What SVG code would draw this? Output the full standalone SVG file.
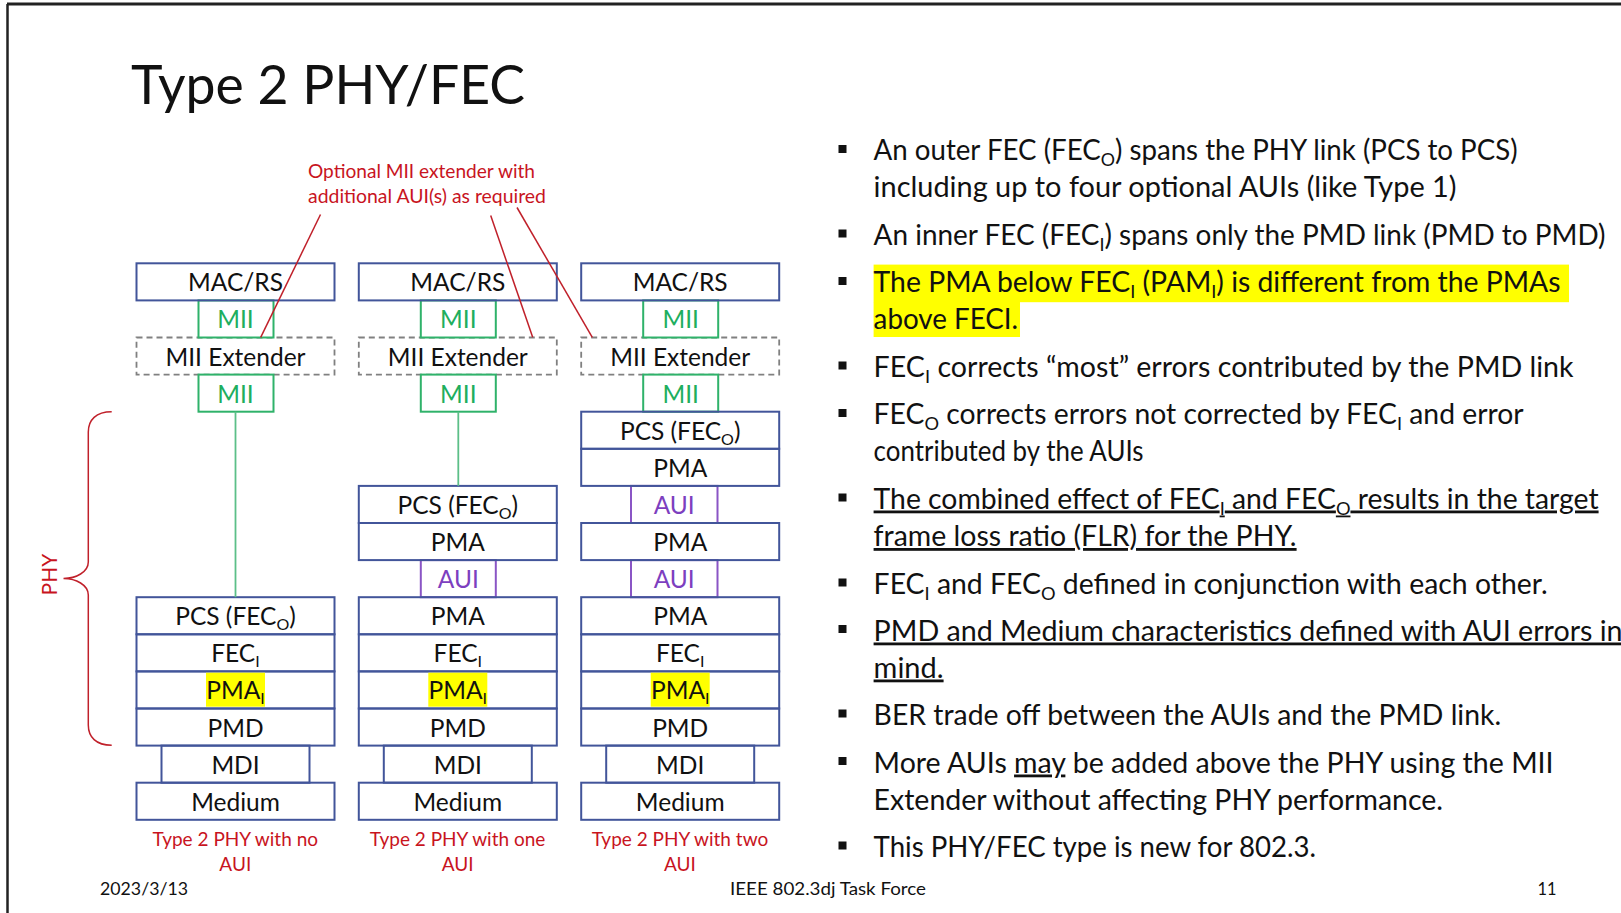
<svg xmlns="http://www.w3.org/2000/svg" width="1621" height="913" viewBox="0 0 1621 913">
<style>
text{font-family:Lato,"Open Sans",sans-serif;text-decoration-skip-ink:none;}
.box{fill:none;stroke:#42559A;stroke-width:2;}
.dash{fill:none;stroke:#808080;stroke-width:1.8;stroke-dasharray:6 4;}
.mii{fill:#fff;stroke:#2FB26A;stroke-width:2;}
.aui{fill:#fff;stroke:#8A55C5;stroke-width:2;}
.lbl{font-size:24.5px;fill:#111;text-anchor:middle;}
.g{fill:#20AE5E;}
.p{fill:#7D3FBF;}
.red{fill:#C8141E;}
.cap{font-size:19px;fill:#C8141E;text-anchor:middle;}
.hl{fill:#FFFF00;}
.b{font-size:28px;fill:#111;}
.bul{fill:#111;}
.foot{font-size:18px;fill:#111;}
.rl{stroke:#C0202A;stroke-width:1.5;fill:none;}
.gl{stroke:#5CBF88;stroke-width:1.8;fill:none;}
</style>
<rect x="0" y="0" width="1621" height="913" fill="#fff"/>
<g id="frame"><line x1="7" y1="4" x2="1621" y2="4" stroke="#222" stroke-width="3"/><line x1="7.5" y1="4" x2="7.5" y2="913" stroke="#222" stroke-width="2.5"/></g>
<g id="title"><text x="131" y="104" font-size="55" fill="#111" textLength="394" lengthAdjust="spacingAndGlyphs">Type 2 PHY/FEC</text></g>

<g id="annotation">
<text x="308" y="178" font-size="19" class="red" textLength="227" lengthAdjust="spacingAndGlyphs">Optional MII extender with</text>
<text x="308" y="203" font-size="19" class="red" textLength="238" lengthAdjust="spacingAndGlyphs">additional AUI(s) as required</text>
</g>

<g id="brace">
<path class="rl" stroke-width="2" d="M111.7,411.7 C96,411.7 88.3,420 88.3,432 L88.3,562 C88.3,572 76,578.5 63.5,578.5 C76,578.5 88.3,585 88.3,595 L88.3,725 C88.3,737 96,745.3 111.7,745.3"/>
<text transform="translate(56.5,574.5) rotate(-90)" x="0" y="0" font-size="21" class="red" text-anchor="middle">PHY</text>
</g>

<!-- Column 1 -->
<g id="col1-mii-ext"><rect class="dash" x="136.5" y="337.5" width="198" height="37.1"/><text class="lbl" x="235.5" y="365.5">MII Extender</text></g>
<g id="col1-mii-top"><rect class="mii" x="198.5" y="300.4" width="75" height="37.1"/><text class="lbl g" x="235.5" y="328.4">MII</text></g>
<g id="col1-mii-bot"><rect class="mii" x="198.5" y="374.6" width="75" height="37.1"/><text class="lbl g" x="235.5" y="402.6">MII</text></g>
<g id="col1-mac"><rect class="box" x="136.5" y="263.3" width="198" height="37.1"/><text class="lbl" x="235.5" y="291.3">MAC/RS</text></g>
<g id="col1-pcs"><rect class="box" x="136.5" y="597.2" width="198" height="37.1"/><text class="lbl" x="235.5" y="625.2">PCS (FEC<tspan font-size="16" dy="5">O</tspan><tspan dy="-5">)</tspan></text></g>
<g id="col1-feci"><rect class="box" x="136.5" y="634.3" width="198" height="37.1"/><text class="lbl" x="235.5" y="662.3">FEC<tspan font-size="16" dy="5">I</tspan></text></g>
<g id="col1-pmai"><rect class="box" x="136.5" y="671.4" width="198" height="37.1"/><rect class="hl" x="206" y="672.7" width="59" height="34"/><text class="lbl" x="235.5" y="699.4">PMA<tspan font-size="16" dy="5">I</tspan></text></g>
<g id="col1-pmd"><rect class="box" x="136.5" y="708.5" width="198" height="37.1"/><text class="lbl" x="235.5" y="736.5">PMD</text></g>
<g id="col1-mdi"><rect class="box" x="161.5" y="745.6" width="148" height="37.1"/><text class="lbl" x="235.5" y="773.6">MDI</text></g>
<g id="col1-medium"><rect class="box" x="136.5" y="782.7" width="198" height="37.1"/><text class="lbl" x="235.5" y="810.7">Medium</text></g>
<g id="col1-caption"><text class="cap" x="235.3" y="846">Type 2 PHY with no</text><text class="cap" x="235.3" y="870.5">AUI</text></g>

<!-- Column 2 -->
<g id="col2-mii-ext"><rect class="dash" x="358.8" y="337.5" width="198" height="37.1"/><text class="lbl" x="457.8" y="365.5">MII Extender</text></g>
<g id="col2-mii-top"><rect class="mii" x="420.8" y="300.4" width="75" height="37.1"/><text class="lbl g" x="458.3" y="328.4">MII</text></g>
<g id="col2-mii-bot"><rect class="mii" x="420.8" y="374.6" width="75" height="37.1"/><text class="lbl g" x="458.3" y="402.6">MII</text></g>
<g id="col2-aui"><rect class="aui" x="420.8" y="560.1" width="75" height="37.1"/><text class="lbl p" x="458.3" y="588.1">AUI</text></g>
<g id="col2-mac"><rect class="box" x="358.8" y="263.3" width="198" height="37.1"/><text class="lbl" x="457.8" y="291.3">MAC/RS</text></g>
<g id="col2-pcs"><rect class="box" x="358.8" y="485.9" width="198" height="37.1"/><text class="lbl" x="457.8" y="513.9">PCS (FEC<tspan font-size="16" dy="5">O</tspan><tspan dy="-5">)</tspan></text></g>
<g id="col2-pma1"><rect class="box" x="358.8" y="523" width="198" height="37.1"/><text class="lbl" x="457.8" y="551">PMA</text></g>
<g id="col2-pma2"><rect class="box" x="358.8" y="597.2" width="198" height="37.1"/><text class="lbl" x="457.8" y="625.2">PMA</text></g>
<g id="col2-feci"><rect class="box" x="358.8" y="634.3" width="198" height="37.1"/><text class="lbl" x="457.8" y="662.3">FEC<tspan font-size="16" dy="5">I</tspan></text></g>
<g id="col2-pmai"><rect class="box" x="358.8" y="671.4" width="198" height="37.1"/><rect class="hl" x="428.3" y="672.7" width="59" height="34"/><text class="lbl" x="457.8" y="699.4">PMA<tspan font-size="16" dy="5">I</tspan></text></g>
<g id="col2-pmd"><rect class="box" x="358.8" y="708.5" width="198" height="37.1"/><text class="lbl" x="457.8" y="736.5">PMD</text></g>
<g id="col2-mdi"><rect class="box" x="383.8" y="745.6" width="148" height="37.1"/><text class="lbl" x="457.8" y="773.6">MDI</text></g>
<g id="col2-medium"><rect class="box" x="358.8" y="782.7" width="198" height="37.1"/><text class="lbl" x="457.8" y="810.7">Medium</text></g>
<g id="col2-caption"><text class="cap" x="457.6" y="846">Type 2 PHY with one</text><text class="cap" x="457.6" y="870.5">AUI</text></g>

<!-- Column 3 -->
<g id="col3-mii-ext"><rect class="dash" x="581.2" y="337.5" width="198" height="37.1"/><text class="lbl" x="680.2" y="365.5">MII Extender</text></g>
<g id="col3-mii-top"><rect class="mii" x="643.2" y="300.4" width="75" height="37.1"/><text class="lbl g" x="680.7" y="328.4">MII</text></g>
<g id="col3-mii-bot"><rect class="mii" x="643.2" y="374.6" width="75" height="37.1"/><text class="lbl g" x="680.7" y="402.6">MII</text></g>
<g id="col3-aui1"><rect class="aui" x="631" y="485.9" width="86.5" height="37.1"/><text class="lbl p" x="674.2" y="513.9">AUI</text></g>
<g id="col3-aui2"><rect class="aui" x="631" y="560.1" width="86.5" height="37.1"/><text class="lbl p" x="674.2" y="588.1">AUI</text></g>
<g id="col3-mac"><rect class="box" x="581.2" y="263.3" width="198" height="37.1"/><text class="lbl" x="680.2" y="291.3">MAC/RS</text></g>
<g id="col3-pcs"><rect class="box" x="581.2" y="411.7" width="198" height="37.1"/><text class="lbl" x="680.2" y="439.7">PCS (FEC<tspan font-size="16" dy="5">O</tspan><tspan dy="-5">)</tspan></text></g>
<g id="col3-pma1"><rect class="box" x="581.2" y="448.8" width="198" height="37.1"/><text class="lbl" x="680.2" y="476.8">PMA</text></g>
<g id="col3-pma2"><rect class="box" x="581.2" y="523" width="198" height="37.1"/><text class="lbl" x="680.2" y="551">PMA</text></g>
<g id="col3-pma3"><rect class="box" x="581.2" y="597.2" width="198" height="37.1"/><text class="lbl" x="680.2" y="625.2">PMA</text></g>
<g id="col3-feci"><rect class="box" x="581.2" y="634.3" width="198" height="37.1"/><text class="lbl" x="680.2" y="662.3">FEC<tspan font-size="16" dy="5">I</tspan></text></g>
<g id="col3-pmai"><rect class="box" x="581.2" y="671.4" width="198" height="37.1"/><rect class="hl" x="650.7" y="672.7" width="59" height="34"/><text class="lbl" x="680.2" y="699.4">PMA<tspan font-size="16" dy="5">I</tspan></text></g>
<g id="col3-pmd"><rect class="box" x="581.2" y="708.5" width="198" height="37.1"/><text class="lbl" x="680.2" y="736.5">PMD</text></g>
<g id="col3-mdi"><rect class="box" x="606.2" y="745.6" width="148" height="37.1"/><text class="lbl" x="680.2" y="773.6">MDI</text></g>
<g id="col3-medium"><rect class="box" x="581.2" y="782.7" width="198" height="37.1"/><text class="lbl" x="680.2" y="810.7">Medium</text></g>
<g id="col3-caption"><text class="cap" x="680" y="846">Type 2 PHY with two</text><text class="cap" x="680" y="870.5">AUI</text></g>

<g id="connectors">
<line class="gl" x1="235.5" y1="411.7" x2="235.5" y2="597.2"/>
<line class="gl" x1="458.3" y1="411.7" x2="458.3" y2="485.9"/>
<line class="rl" x1="320.5" y1="214.5" x2="260.7" y2="337.3"/>
<line class="rl" x1="490.7" y1="215.5" x2="532.7" y2="337.3"/>
<line class="rl" x1="517" y1="207.5" x2="592.3" y2="337.3"/>
</g>

<g id="bullets">
<rect class="hl" x="873.6" y="264.6" width="695.4" height="37.6"/>
<rect class="hl" x="873.6" y="302" width="146.4" height="35"/>
<rect class="bul" x="838.5" y="145" width="8" height="8"/>
<rect class="bul" x="838.5" y="229.5" width="8" height="8"/>
<rect class="bul" x="838.5" y="277" width="8" height="8"/>
<rect class="bul" x="838.5" y="361.5" width="8" height="8"/>
<rect class="bul" x="838.5" y="409" width="8" height="8"/>
<rect class="bul" x="838.5" y="493.5" width="8" height="8"/>
<rect class="bul" x="838.5" y="578.5" width="8" height="8"/>
<rect class="bul" x="838.5" y="625" width="8" height="8"/>
<rect class="bul" x="838.5" y="709.5" width="8" height="8"/>
<rect class="bul" x="838.5" y="757" width="8" height="8"/>
<rect class="bul" x="838.5" y="841.5" width="8" height="8"/>
<text class="b" x="873.6" y="160" textLength="644" lengthAdjust="spacingAndGlyphs">An outer FEC (FEC<tspan font-size="18" dy="6">O</tspan><tspan dy="-6">) spans the PHY link (PCS to PCS)</tspan></text>
<text class="b" x="873.6" y="197" textLength="583" lengthAdjust="spacingAndGlyphs">including up to four optional AUIs (like Type 1)</text>
<text class="b" x="873.6" y="244.5" textLength="732" lengthAdjust="spacingAndGlyphs">An inner FEC (FEC<tspan font-size="18" dy="6">I</tspan><tspan dy="-6">) spans only the PMD link (PMD to PMD)</tspan></text>
<text class="b" x="873.6" y="292" textLength="687" lengthAdjust="spacingAndGlyphs">The PMA below FEC<tspan font-size="18" dy="6">I</tspan><tspan dy="-6"> (PAM</tspan><tspan font-size="18" dy="6">I</tspan><tspan dy="-6">) is different from the PMAs</tspan></text>
<text class="b" x="873.6" y="329" textLength="144.5" lengthAdjust="spacingAndGlyphs">above FECI.</text>
<text class="b" x="873.6" y="376.5" textLength="700" lengthAdjust="spacingAndGlyphs">FEC<tspan font-size="18" dy="6">I</tspan><tspan dy="-6"> corrects “most” errors contributed by the PMD link</tspan></text>
<text class="b" x="873.6" y="424" textLength="650" lengthAdjust="spacingAndGlyphs">FEC<tspan font-size="18" dy="6">O</tspan><tspan dy="-6"> corrects errors not corrected by FEC</tspan><tspan font-size="18" dy="6">I</tspan><tspan dy="-6"> and error</tspan></text>
<text class="b" x="873.6" y="461" textLength="270" lengthAdjust="spacingAndGlyphs">contributed by the AUIs</text>
<text class="b" x="873.6" y="508.5" text-decoration="underline" textLength="725" lengthAdjust="spacingAndGlyphs">The combined effect of FEC<tspan font-size="18" dy="6">I</tspan><tspan dy="-6"> and FEC</tspan><tspan font-size="18" dy="6">O</tspan><tspan dy="-6"> results in the target</tspan></text>
<text class="b" x="873.6" y="546" text-decoration="underline" textLength="423" lengthAdjust="spacingAndGlyphs">frame loss ratio (FLR) for the PHY.</text>
<text class="b" x="873.6" y="593.5" textLength="674" lengthAdjust="spacingAndGlyphs">FEC<tspan font-size="18" dy="6">I</tspan><tspan dy="-6"> and FEC</tspan><tspan font-size="18" dy="6">O</tspan><tspan dy="-6"> defined in conjunction with each other.</tspan></text>
<text class="b" x="873.6" y="640.5" text-decoration="underline" textLength="749" lengthAdjust="spacingAndGlyphs">PMD and Medium characteristics defined with AUI errors in</text>
<text class="b" x="873.6" y="677.5" text-decoration="underline" textLength="70" lengthAdjust="spacingAndGlyphs">mind.</text>
<text class="b" x="873.6" y="725" textLength="627.5" lengthAdjust="spacingAndGlyphs">BER trade off between the AUIs and the PMD link.</text>
<text class="b" x="873.6" y="772.5" textLength="680" lengthAdjust="spacingAndGlyphs">More AUIs <tspan text-decoration="underline">may</tspan> be added above the PHY using the MII</text>
<text class="b" x="873.6" y="809.5" textLength="569.5" lengthAdjust="spacingAndGlyphs">Extender without affecting PHY performance.</text>
<text class="b" x="873.6" y="857" textLength="442.5" lengthAdjust="spacingAndGlyphs">This PHY/FEC type is new for 802.3.</text>
</g>

<g id="footer">
<text class="foot" x="100" y="895" textLength="88" lengthAdjust="spacingAndGlyphs">2023/3/13</text>
<text class="foot" x="730" y="895" textLength="196" lengthAdjust="spacingAndGlyphs">IEEE 802.3dj Task Force</text>
<text class="foot" x="1537.5" y="895" textLength="19" lengthAdjust="spacingAndGlyphs">11</text>
</g>
</svg>
